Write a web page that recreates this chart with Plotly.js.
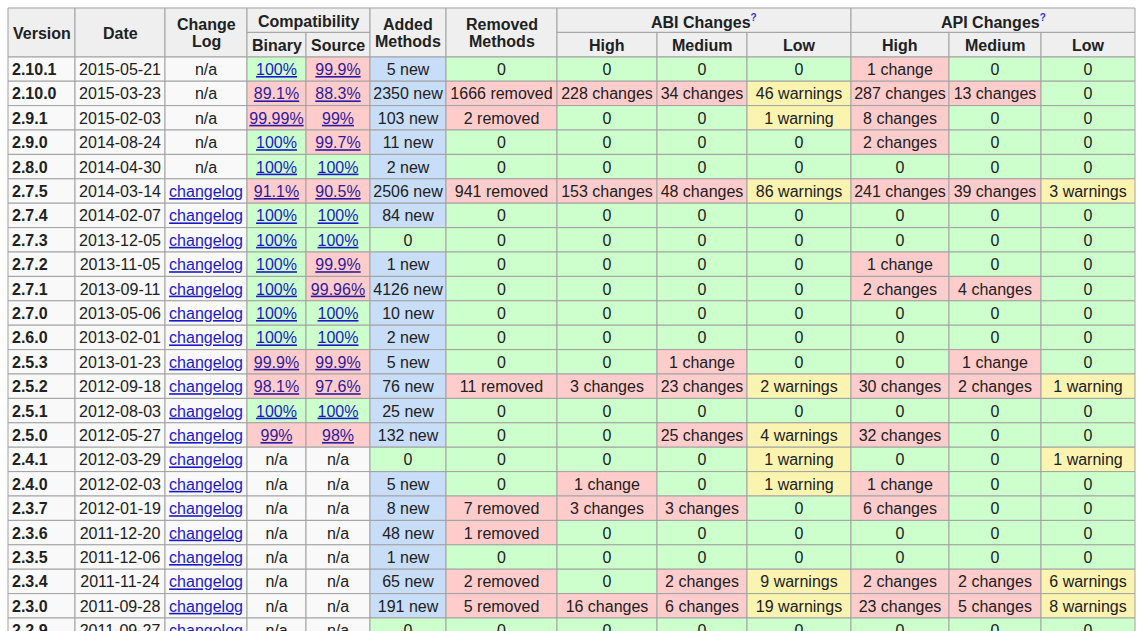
<!DOCTYPE html>
<html>
<head>
<meta charset="utf-8">
<script src="https://cdn.plot.ly/plotly-3.0.1.min.js"></script>
<style>html,body{margin:0;padding:0;background:#fff;overflow:hidden;}#wrap{width:1143px;height:631px;overflow:hidden;}#chart{width:1143px;height:660px;}</style>
</head>
<body>
<div id="wrap"><div id="chart"></div></div>
<script>
// ---------- data ----------
const versions = ["2.10.1","2.10.0","2.9.1","2.9.0","2.8.0","2.7.5","2.7.4","2.7.3","2.7.2","2.7.1","2.7.0","2.6.0","2.5.3","2.5.2","2.5.1","2.5.0","2.4.1","2.4.0","2.3.7","2.3.6","2.3.5","2.3.4","2.3.0","2.2.9"];
const dates = ["2015-05-21","2015-03-23","2015-02-03","2014-08-24","2014-04-30","2014-03-14","2014-02-07","2013-12-05","2013-11-05","2013-09-11","2013-05-06","2013-02-01","2013-01-23","2012-09-18","2012-08-03","2012-05-27","2012-03-29","2012-02-03","2012-01-19","2011-12-20","2011-12-06","2011-11-24","2011-09-28","2011-09-27"];
const changeLog = ["n/a","n/a","n/a","n/a","n/a","changelog","changelog","changelog","changelog","changelog","changelog","changelog","changelog","changelog","changelog","changelog","changelog","changelog","changelog","changelog","changelog","changelog","changelog","changelog"];
const binaryCompat = ["100%","89.1%","99.99%","100%","100%","91.1%","100%","100%","100%","100%","100%","100%","99.9%","98.1%","100%","99%","n/a","n/a","n/a","n/a","n/a","n/a","n/a","n/a"];
const sourceCompat = ["99.9%","88.3%","99%","99.7%","100%","90.5%","100%","100%","99.9%","99.96%","100%","100%","99.9%","97.6%","100%","98%","n/a","n/a","n/a","n/a","n/a","n/a","n/a","n/a"];
const addedMethods = ["5 new","2350 new","103 new","11 new","2 new","2506 new","84 new","0","1 new","4126 new","10 new","2 new","5 new","76 new","25 new","132 new","0","5 new","8 new","48 new","1 new","65 new","191 new","0"];
const removedMethods = ["0","1666 removed","2 removed","0","0","941 removed","0","0","0","0","0","0","0","11 removed","0","0","0","0","7 removed","1 removed","0","2 removed","5 removed","0"];
const abiHigh = ["0","228 changes","0","0","0","153 changes","0","0","0","0","0","0","0","3 changes","0","0","0","1 change","3 changes","0","0","0","16 changes","0"];
const abiMedium = ["0","34 changes","0","0","0","48 changes","0","0","0","0","0","0","1 change","23 changes","0","25 changes","0","0","3 changes","0","0","2 changes","6 changes","0"];
const abiLow = ["0","46 warnings","1 warning","0","0","86 warnings","0","0","0","0","0","0","0","2 warnings","0","4 warnings","1 warning","1 warning","0","0","0","9 warnings","19 warnings","0"];
const apiHigh = ["1 change","287 changes","8 changes","2 changes","0","241 changes","0","0","1 change","2 changes","0","0","0","30 changes","0","32 changes","0","1 change","6 changes","0","0","2 changes","23 changes","0"];
const apiMedium = ["0","13 changes","0","0","0","39 changes","0","0","0","4 changes","0","0","1 change","2 changes","0","0","0","0","0","0","0","2 changes","5 changes","0"];
const apiLow = ["0","0","0","0","0","3 warnings","0","0","0","0","0","0","0","1 warning","0","0","1 warning","0","0","0","0","6 warnings","8 warnings","0"];

// ---------- styling / layout ----------
const FONT = "Liberation Sans, Arial, sans-serif";
const TEXT = "#202122";
const BORDER = "#a2a2a2";
const HEAD_BG = "#efefef";
const PLAIN_BG = "#f9f9f9";
const GREEN = "#ccffcc", RED = "#ffcccc", YELLOW = "#fbf3b0", BLUE = "#c8ddf8";
const LINK = "#1a1ac8", LINK_V = "#2e1a9e";
const tableLeft = 8;
const colWidths = [67, 90, 82, 59, 64, 76, 111, 100, 90, 104, 98, 92, 94];
const rowPx = 24.4, topPx = 8;
const plotH = 660;              // taller than the window; the bottom row is cut by the window edge
const textShift = 2 / rowPx;   // nudge so text sits mid-cell

const edges = [tableLeft];
colWidths.forEach(w => edges.push(edges[edges.length - 1] + w));
const mid = i => (edges[i] + edges[i + 1]) / 2;

function pctColor(v) { return v === "n/a" ? PLAIN_BG : (v === "100%" ? GREEN : RED); }
const columns = [
  {vals: versions, bg: () => PLAIN_BG, kind: "version"},
  {vals: dates, bg: () => PLAIN_BG},
  {vals: changeLog, bg: () => PLAIN_BG, kind: "link"},
  {vals: binaryCompat, bg: pctColor, kind: "link"},
  {vals: sourceCompat, bg: pctColor, kind: "link"},
  {vals: addedMethods, bg: v => v === "0" ? GREEN : BLUE},
  {vals: removedMethods, bg: v => v === "0" ? GREEN : RED},
  {vals: abiHigh, bg: v => v === "0" ? GREEN : RED},
  {vals: abiMedium, bg: v => v === "0" ? GREEN : RED},
  {vals: abiLow, bg: v => v === "0" ? GREEN : YELLOW},
  {vals: apiHigh, bg: v => v === "0" ? GREEN : RED},
  {vals: apiMedium, bg: v => v === "0" ? GREEN : RED},
  {vals: apiLow, bg: v => v === "0" ? GREEN : YELLOW}
];

const shapes = [];
const traces = [];
function cell(x0, x1, y0, y1, fill) {
  shapes.push({type: "rect", xref: "x", yref: "y", x0, x1, y0, y1, fillcolor: fill,
    line: {color: BORDER, width: 1}, layer: "below"});
}

// body cells
columns.forEach((c, ci) => {
  c.vals.forEach((v, ri) => cell(edges[ci], edges[ci + 1], ri, ri + 1, c.bg(v)));
  const ys = c.vals.map((v, ri) => ri + 0.5 + textShift);
  let text = c.vals, colors = c.vals.map(() => TEXT);
  if (c.kind === "link") {
    text = c.vals.map(v => v === "n/a" ? v : '<span style="text-decoration:underline">' + v + '</span>');
    colors = c.vals.map(v => v === "n/a" ? TEXT : (c.bg(v) === RED ? LINK_V : LINK));
  }
  const isVer = c.kind === "version";
  traces.push({
    type: "scatter", mode: "text", hoverinfo: "skip", showlegend: false,
    x: c.vals.map(() => isVer ? edges[ci] + 4 : mid(ci)), y: ys, text: text,
    textposition: isVer ? "middle right" : "middle center",
    textfont: {family: FONT, size: 16, color: colors, weight: isVer ? "bold" : "normal"},
    cliponaxis: false
  });
});

// header
const annotations = [];
function label(xc, y, txt) {
  annotations.push({xref: "x", yref: "y", x: xc, y: y,
    text: txt, showarrow: false, font: {family: FONT, size: 16, color: TEXT, weight: "bold"},
    xanchor: "center", yanchor: "middle"});
}
function head(x0i, x1i, y0, y1, lines) {
  cell(edges[x0i], edges[x1i], y0, y1, HEAD_BG);
  const xc = (edges[x0i] + edges[x1i]) / 2;
  const yc = (y0 + y1) / 2 + 1 / rowPx;
  if (lines.length === 1) {
    label(xc, yc, lines[0]);
  } else {
    const gap = 17 / rowPx;
    label(xc, yc - gap / 2, lines[0]);
    label(xc, yc + gap / 2, lines[1]);
  }
}
const q = '<sup><span style="color:#3333cc;font-size:10px">?</span></sup>';
head(0, 1, -2, 0, ["Version"]);
head(1, 2, -2, 0, ["Date"]);
head(2, 3, -2, 0, ["Change", "Log"]);
head(3, 5, -2, -1, ["Compatibility"]);
head(3, 4, -1, 0, ["Binary"]);
head(4, 5, -1, 0, ["Source"]);
head(5, 6, -2, 0, ["Added", "Methods"]);
head(6, 7, -2, 0, ["Removed", "Methods"]);
head(7, 10, -2, -1, ["ABI Changes" + q]);
head(7, 8, -1, 0, ["High"]);
head(8, 9, -1, 0, ["Medium"]);
head(9, 10, -1, 0, ["Low"]);
head(10, 13, -2, -1, ["API Changes" + q]);
head(10, 11, -1, 0, ["High"]);
head(11, 12, -1, 0, ["Medium"]);
head(12, 13, -1, 0, ["Low"]);

const yTop = -2 - topPx / rowPx;
const yBottom = yTop + plotH / rowPx;

const layout = {
  width: 1143, height: plotH,
  margin: {l: 0, r: 0, t: 0, b: 0, pad: 0},
  paper_bgcolor: "#ffffff", plot_bgcolor: "#ffffff",
  xaxis: {range: [0, 1143], visible: false, fixedrange: true},
  yaxis: {range: [yBottom, yTop], visible: false, fixedrange: true},
  shapes, annotations, showlegend: false
};
Plotly.newPlot("chart", traces, layout, {displayModeBar: false, staticPlot: true});
</script>
</body>
</html>
